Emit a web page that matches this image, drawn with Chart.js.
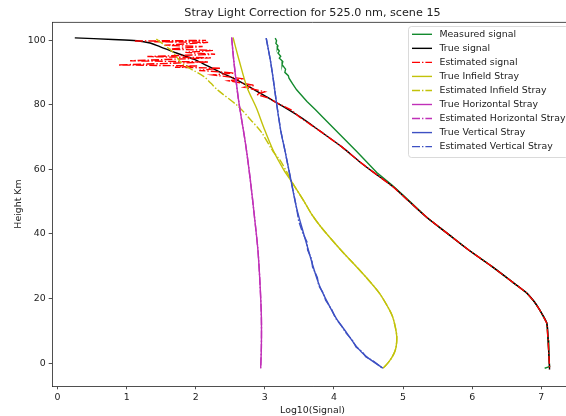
<!DOCTYPE html>
<html>
<head>
<meta charset="utf-8">
<script src="https://cdn.jsdelivr.net/npm/chart.js@4.4.1/dist/chart.umd.min.js"></script>
<style>
    body { margin: 0; overflow: hidden; background: #fff; }
    #wrap { width: 600px; height: 416px; }
</style>
</head>
<body>
<div id="wrap"><canvas id="stray-graph"></canvas></div>
<script>
// height (km) and log10(signal) for each profile
const measuredH = [100.6, 99.8, 99.0, 98.2, 97.5, 96.6, 96.0, 95.0, 94.4, 93.4, 92.4, 91.0, 90.0, 89.0, 88.2, 86.5, 84.6, 81.0, 78.5, 75.9, 70.7, 65.5, 63.5, 59.0, 55.1, 52.0, 50.0, 45.0, 40.0, 35.0, 30.0, 25.0, 21.7, 19.0, 16.4, 12.4, 7.1, 3.0, -1.1, -1.6];
const measuredX = [3.15, 3.17, 3.16, 3.19, 3.18, 3.21, 3.19, 3.23, 3.21, 3.26, 3.25, 3.30, 3.29, 3.34, 3.35, 3.40, 3.46, 3.61, 3.73, 3.85, 4.09, 4.33, 4.42, 4.62, 4.84, 5.00, 5.10, 5.35, 5.65, 5.95, 6.28, 6.59, 6.79, 6.90, 6.98, 7.08, 7.10, 7.11, 7.12, 7.05];

const trueSignalH = [100.7, 100.2, 99.8, 99.1, 98.0, 96.0, 94.0, 92.0, 90.0, 87.6, 85.0, 82.5, 80.5, 76.2, 71.8, 67.0, 62.2, 58.0, 54.5, 50.0, 45.0, 40.0, 35.0, 30.0, 25.0, 21.7, 19.0, 16.4, 12.4, 7.1, 3.0, -1.1, -2.0];
const trueSignalX = [0.25, 0.80, 1.15, 1.34, 1.48, 1.72, 1.98, 2.17, 2.36, 2.60, 2.82, 3.02, 3.18, 3.51, 3.80, 4.11, 4.38, 4.64, 4.86, 5.09, 5.35, 5.65, 5.95, 6.28, 6.59, 6.79, 6.90, 6.98, 7.08, 7.10, 7.11, 7.12, 7.12];

const estSignalH = [99.7, 99.9, 99.5, 99.3, 98.4, 98.0, 97.2, 96.8, 96.2, 95.6, 94.9, 94.5, 93.6, 93.2, 92.3, 92.0, 91.6, 91.3, 90.6, 89.8, 89.2, 88.0, 87.4, 86.0, 85.4, 84.0, 83.2, 82.0, 80.5, 78.4, 76.2, 71.8, 67.0, 62.2, 58.0, 54.5, 50.0, 45.0, 40.0, 35.0, 30.0, 25.0, 21.7, 19.0, 16.4, 12.4, 7.1, 3.0, -1.1, -2.0];
const estSignalX = [1.12, 2.15, 1.40, 2.18, 1.55, 2.10, 1.62, 2.25, 1.85, 2.28, 1.30, 2.22, 1.05, 2.18, 0.88, 2.02, 1.70, 2.35, 2.05, 2.55, 2.25, 2.70, 2.48, 2.85, 2.70, 3.00, 2.88, 3.06, 3.18, 3.38, 3.50, 3.80, 4.11, 4.38, 4.64, 4.86, 5.09, 5.35, 5.65, 5.95, 6.28, 6.59, 6.79, 6.90, 6.98, 7.08, 7.10, 7.11, 7.12, 7.12];

const infieldH = [100.8, 93.6, 85.5, 78.9, 73.2, 65.9, 60.0, 56.1, 50.0, 46.0, 42.2, 35.0, 30.9, 26.7, 21.6, 17.0, 14.3, 11.0, 8.1, 5.0, 3.0, 0.5, -1.6];
const infieldX = [2.54, 2.63, 2.74, 2.88, 2.98, 3.12, 3.27, 3.39, 3.57, 3.68, 3.81, 4.10, 4.28, 4.46, 4.66, 4.79, 4.85, 4.89, 4.91, 4.90, 4.87, 4.80, 4.71];

const estInfieldH = [100.3, 96.5, 92.8, 88.7, 86.6, 84.5, 79.4, 75.2, 71.5, 65.5, 62.8, 57.5, 56.1, 50.0, 46.0, 42.2, 35.0, 30.9, 26.7, 21.6, 17.0, 14.3, 11.0, 8.1, 5.0, 3.0, 0.5, -1.6];
const estInfieldX = [1.43, 1.66, 1.80, 2.12, 2.22, 2.32, 2.62, 2.80, 2.95, 3.12, 3.22, 3.36, 3.39, 3.57, 3.68, 3.81, 4.10, 4.28, 4.46, 4.66, 4.79, 4.85, 4.89, 4.91, 4.90, 4.87, 4.80, 4.71];

const horizH = [100.8, 93.8, 81.4, 68.0, 56.7, 45.3, 35.0, 24.7, 14.3, 5.0, -1.6];
const horizX = [2.52, 2.55, 2.62, 2.72, 2.79, 2.85, 2.90, 2.93, 2.95, 2.95, 2.94];

const vertH = [100.6, 93.8, 88.2, 80.4, 72.0, 65.9, 56.4, 48.0, 40.2, 35.0, 29.8, 24.0, 19.5, 14.0, 9.2, 5.0, 2.0, -1.6];
const vertX = [3.02, 3.08, 3.12, 3.17, 3.23, 3.29, 3.38, 3.46, 3.56, 3.63, 3.70, 3.79, 3.89, 4.03, 4.19, 4.33, 4.47, 4.71];

const estVertH = [100.6, 93.8, 88.2, 80.4, 72.0, 65.9, 56.4, 48.0, 44.0, 40.2, 37.5, 35.0, 32.0, 29.8, 26.5, 24.0, 21.5, 19.5, 16.5, 14.0, 11.5, 9.2, 7.0, 5.0, 3.5, 2.0, 0.5, -1.6];
const estVertX = [3.02, 3.08, 3.12, 3.17, 3.23, 3.29, 3.38, 3.46, 3.49, 3.55, 3.61, 3.62, 3.68, 3.69, 3.76, 3.78, 3.85, 3.88, 3.97, 4.02, 4.11, 4.18, 4.27, 4.32, 4.41, 4.46, 4.58, 4.70];

const xTicks = [0, 1, 2, 3, 4, 5, 6, 7];
const yTicks = [0, 20, 40, 60, 80, 100];

const titleText = "Stray Light Correction for 525.0 nm, scene 15";
const dashDot = [8, 2, 1.4, 2];
const textColor = "#222";
const smallFont = { family: "DejaVu Sans", size: 9.4 };

function toPoints(hs, xs) {
    let pts = Array(hs.length);
    for (let i = 0; i < hs.length; i++) {
        pts[i] = { x: xs[i], y: hs[i] };
    }
    return pts;
}

// label, heights, values, colour, dashed, smooth
let series = [
    ["Measured signal", measuredH, measuredX, "#138a2e", false, false],
    ["True signal", trueSignalH, trueSignalX, "#000000", false, true],
    ["Estimated signal", estSignalH, estSignalX, "#ff0000", true, false],
    ["True Infield Stray", infieldH, infieldX, "#c2c20a", false, true],
    ["Estimated Infield Stray", estInfieldH, estInfieldX, "#c2c20a", true, true],
    ["True Horizontal Stray", horizH, horizX, "#c030b8", false, true],
    ["Estimated Horizontal Stray", horizH, horizX, "#c030b8", true, true],
    ["True Vertical Stray", vertH, vertX, "#3d50c3", false, true],
    ["Estimated Vertical Stray", estVertH, estVertX, "#3d50c3", true, false]
];

let datasets = series.map(function (s, i) {
    return {
        label: s[0],
        data: toPoints(s[1], s[2]),
        borderColor: s[3],
        backgroundColor: s[3],
        borderWidth: 1.4,
        borderDash: s[4] ? dashDot : [],
        pointRadius: 0,
        fill: false,
        tension: s[5] ? 0.3 : 0,
        order: series.length - i
    };
});

// title, top/right spines and the boxed legend inside the axes
const decorations = {
    id: "decorations",
    afterDraw(chart) {
        const ctx = chart.ctx;
        const a = chart.chartArea;
        ctx.save();
        ctx.strokeStyle = textColor;
        ctx.lineWidth = 0.8;
        ctx.beginPath();
        ctx.moveTo(a.left, a.top + 0.4);
        ctx.lineTo(a.right, a.top + 0.4);
        ctx.lineTo(a.right, a.bottom);
        ctx.stroke();

        ctx.fillStyle = textColor;
        ctx.font = '11.2px "DejaVu Sans"';
        ctx.textAlign = "center";
        ctx.textBaseline = "middle";
        ctx.fillText(titleText, (a.left + a.right) / 2, 13);

        ctx.fillStyle = "rgba(255,255,255,0.8)";
        ctx.strokeStyle = "#d0d0d0";
        ctx.beginPath();
        ctx.roundRect(408.5, 26.5, 160, 131, 3);
        ctx.fill();
        ctx.stroke();

        ctx.font = '9.4px "DejaVu Sans"';
        ctx.textAlign = "left";
        chart.data.datasets.forEach(function (ds, i) {
            let y = 34.3 + 14.04 * i;
            ctx.strokeStyle = ds.borderColor;
            ctx.lineWidth = 1.4;
            ctx.setLineDash(ds.borderDash);
            ctx.beginPath();
            ctx.moveTo(412, y);
            ctx.lineTo(432, y);
            ctx.stroke();
            ctx.setLineDash([]);
            ctx.fillStyle = textColor;
            ctx.fillText(ds.label, 439.5, y);
        });
        ctx.restore();
    }
};

new Chart(document.getElementById("stray-graph"), {
    type: "line",
    data: { datasets: datasets },
    options: {
        responsive: true,
        maintainAspectRatio: false,
        animation: false,
        layout: { padding: { top: 22, right: 27, left: 0, bottom: 0 } },
        plugins: {
            legend: { display: false },
            title: { display: false },
            tooltip: { enabled: false }
        },
        scales: {
            x: {
                type: "linear",
                min: -0.08,
                max: 7.46,
                afterBuildTicks: function (s) { s.ticks = xTicks.map(v => ({ value: v })); },
                afterFit: function (s) { s.height = 30; },
                grid: { drawOnChartArea: false, tickLength: 3.3, tickColor: textColor, tickWidth: 0.8 },
                border: { color: textColor, width: 0.8 },
                ticks: { font: smallFont, color: textColor, padding: 3, maxRotation: 0 },
                title: { display: true, text: "Log10(Signal)", font: smallFont, color: textColor, padding: { top: 0.5, bottom: 0 } }
            },
            y: {
                type: "linear",
                min: -7.1,
                max: 105.6,
                afterBuildTicks: function (s) { s.ticks = yTicks.map(v => ({ value: v })); },
                afterFit: function (s) { s.width = 52; },
                grid: { drawOnChartArea: false, tickLength: 3.3, tickColor: textColor, tickWidth: 0.8 },
                border: { color: textColor, width: 0.8 },
                ticks: { font: smallFont, color: textColor, padding: 3 },
                title: { display: true, text: "Height Km", font: smallFont, color: textColor, padding: { top: 12.5, bottom: 0 } }
            }
        }
    },
    plugins: [decorations]
});
</script>
</body>
</html>
